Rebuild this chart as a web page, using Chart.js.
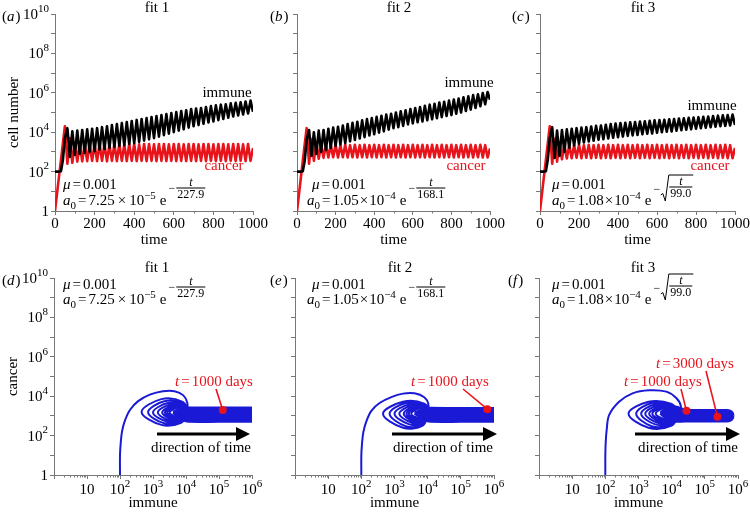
<!DOCTYPE html>
<html><head><meta charset="utf-8">
<script src="https://cdn.jsdelivr.net/npm/chart.js@4.4.1/dist/chart.umd.min.js"></script>
<style>
html,body{margin:0;padding:0;background:#fff;overflow:hidden}
#wrap{position:relative;width:750px;height:514px;background:#fff}
#wrap canvas{position:absolute;left:0;top:0}
</style></head><body>
<div id="wrap">
<canvas id="pa" width="750" height="514"></canvas>
<canvas id="pb" width="750" height="514"></canvas>
<canvas id="pc" width="750" height="514"></canvas>
<canvas id="pd" width="750" height="514"></canvas>
<canvas id="pe" width="750" height="514"></canvas>
<canvas id="pf" width="750" height="514"></canvas>
</div>
<script>
// ================= DATA =================
const time = [0,15,30,40,50,62.5,75,87.5,100,112.5,125,137.5,150,162.5,175,187.5,200,212.5,225,237.5,250,262.5,275,287.5,300,312.5,325,337.5,350,362.5,375,387.5,400,412.5,425,437.5,450,462.5,475,487.5,500,512.5,525,537.5,550,562.5,575,587.5,600,612.5,625,637.5,650,662.5,675,687.5,700,712.5,725,737.5,750,762.5,775,787.5,800,812.5,825,837.5,850,862.5,875,887.5,900,912.5,925,937.5,950,962.5,975,987.5,1000];

// fit 1
const immune1 = [100,100,105,400,5.0e3,
 1.6e4,5.6e2, 1.1e4,7.1e2, 1.2e4,7.9e2, 1.3e4,8.9e2, 1.4e4,1.0e3, 1.5e4,1.1e3, 1.6e4,1.3e3, 1.8e4,1.4e3, 2.0e4,1.6e3, 2.3e4,1.8e3,
 2.6e4,2.0e3, 2.9e4,2.2e3, 3.3e4,2.5e3, 3.7e4,2.8e3, 4.2e4,3.2e3, 4.7e4,3.7e3, 5.2e4,4.3e3, 5.9e4,5.0e3, 6.6e4,5.9e3, 7.4e4,7.1e3,
 8.3e4,8.5e3, 9.3e4,1.0e4, 1.05e5,1.2e4, 1.2e5,1.4e4, 1.3e5,1.7e4, 1.5e5,2.0e4, 1.6e5,2.3e4, 1.7e5,2.7e4, 1.9e5,3.1e4, 2.1e5,3.5e4,
 2.3e5,4.1e4, 2.5e5,4.7e4, 2.6e5,5.4e4, 2.9e5,6.3e4, 3.1e5,7.1e4, 3.3e5,7.9e4, 3.6e5,8.9e4, 4.0e5,1.1e5];
const cancer1 = [1,20,3.8e2,2.8e3,2.0e4,
 2.5e2,5.0e3, 2.8e2,3.0e3, 3.2e2,2.6e3, 3.3e2,2.5e3, 3.4e2,2.5e3, 3.5e2,2.4e3, 3.4e2,2.5e3, 3.5e2,2.5e3, 3.3e2,2.4e3, 3.5e2,2.5e3,
 3.4e2,2.5e3, 3.5e2,2.4e3, 3.4e2,2.5e3, 3.5e2,2.5e3, 3.4e2,2.4e3, 3.5e2,2.5e3, 3.4e2,2.5e3, 3.5e2,2.4e3, 3.4e2,2.5e3, 3.5e2,2.5e3,
 3.4e2,2.4e3, 3.5e2,2.5e3, 3.4e2,2.5e3, 3.5e2,2.4e3, 3.4e2,2.5e3, 3.5e2,2.5e3, 3.4e2,2.4e3, 3.5e2,2.5e3, 3.4e2,2.5e3, 3.5e2,2.4e3,
 3.4e2,2.5e3, 3.5e2,2.5e3, 3.4e2,2.4e3, 3.5e2,2.5e3, 3.4e2,2.5e3, 3.5e2,2.4e3, 3.4e2,2.5e3, 3.5e2,1.6e3];

// fit 2
const immune2 = [100,100,105,350,4.0e3,
 1.3e4,6.3e2, 1.0e4,7.9e2,
 1.2e4,1.0e3, 1.3e4,1.26e3, 1.5e4,1.6e3, 1.7e4,2.0e3, 1.9e4,2.4e3, 2.2e4,2.8e3, 2.6e4,3.4e3, 3.0e4,4.0e3, 3.4e4,4.8e3, 4.0e4,5.6e3,
 4.6e4,6.8e3, 5.2e4,7.9e3, 6.0e4,9.5e3, 6.8e4,1.1e4, 7.8e4,1.35e4, 8.7e4,1.6e4, 1.0e5,1.8e4, 1.15e5,2.1e4, 1.3e5,2.5e4, 1.5e5,2.8e4,
 1.7e5,3.2e4, 1.9e5,3.5e4, 2.2e5,4.0e4, 2.5e5,4.5e4, 2.8e5,5.1e4, 3.2e5,5.8e4, 3.5e5,6.6e4, 4.0e5,7.4e4, 4.6e5,8.7e4, 5.1e5,1.0e5,
 5.9e5,1.2e5, 6.6e5,1.4e5, 7.6e5,1.7e5, 8.5e5,2.1e5, 9.8e5,2.6e5, 1.1e6,4.5e5];
const cancer2 = [1,18,3.5e2,2.5e3,1.6e4,
 2.5e2,4.5e3, 3.5e2,3.0e3, 4.5e2,2.4e3, 5.0e2,2.3e3,
 5.2e2,2.2e3, 5.4e2,2.3e3, 5.2e2,2.2e3, 5.4e2,2.3e3, 5.2e2,2.2e3, 5.4e2,2.3e3, 5.2e2,2.2e3, 5.4e2,2.3e3, 5.2e2,2.2e3, 5.4e2,2.3e3,
 5.2e2,2.2e3, 5.4e2,2.3e3, 5.2e2,2.2e3, 5.4e2,2.3e3, 5.2e2,2.2e3, 5.4e2,2.3e3, 5.2e2,2.2e3, 5.4e2,2.3e3, 5.2e2,2.2e3, 5.4e2,2.3e3,
 5.2e2,2.2e3, 5.4e2,2.3e3, 5.2e2,2.2e3, 5.4e2,2.3e3, 5.2e2,2.2e3, 5.4e2,2.3e3, 5.2e2,2.2e3, 5.4e2,2.3e3, 5.2e2,2.2e3, 5.4e2,2.3e3,
 5.2e2,2.2e3, 5.4e2,2.3e3, 5.2e2,2.2e3, 5.2e2,1.5e3];

// fit 3
const immune3 = [100,100,105,400,5.0e3,
 1.8e4,5.0e2, 1.2e4,6.3e2,
 1.3e4,1.0e3, 1.4e4,1.6e3, 1.5e4,2.1e3, 1.6e4,2.6e3, 1.7e4,3.0e3, 1.8e4,3.4e3, 1.95e4,3.7e3, 2.1e4,4.1e3, 2.2e4,4.4e3, 2.4e4,4.8e3,
 2.6e4,5.2e3, 2.75e4,5.6e3, 2.9e4,6.0e3, 3.0e4,6.5e3, 3.2e4,6.9e3, 3.3e4,7.2e3, 3.5e4,7.8e3, 3.6e4,8.3e3, 3.8e4,8.7e3, 4.0e4,9.3e3,
 4.1e4,1.0e4, 4.3e4,1.05e4, 4.5e4,1.1e4, 4.7e4,1.2e4, 4.9e4,1.26e4, 5.1e4,1.35e4, 5.4e4,1.4e4, 5.6e4,1.5e4, 5.8e4,1.6e4, 6.0e4,1.7e4,
 6.3e4,1.8e4, 6.6e4,1.9e4, 6.9e4,2.0e4, 7.2e4,2.1e4, 7.4e4,2.2e4, 7.8e4,2.3e4];
const cancer3 = [1,20,3.8e2,2.8e3,2.0e4,
 2.5e2,4.5e3, 3.2e2,3.0e3, 4.2e2,2.3e3, 4.6e2,2.2e3,
 4.8e2,2.2e3, 5.0e2,2.3e3, 4.8e2,2.2e3, 5.0e2,2.3e3, 4.8e2,2.2e3, 5.0e2,2.3e3, 4.8e2,2.2e3, 5.0e2,2.3e3, 4.8e2,2.2e3, 5.0e2,2.3e3,
 4.8e2,2.2e3, 5.0e2,2.3e3, 4.8e2,2.2e3, 5.0e2,2.3e3, 4.8e2,2.2e3, 5.0e2,2.3e3, 4.8e2,2.2e3, 5.0e2,2.3e3, 4.8e2,2.2e3, 5.0e2,2.3e3,
 4.8e2,2.2e3, 5.0e2,2.3e3, 4.8e2,2.2e3, 5.0e2,2.3e3, 4.8e2,2.2e3, 5.0e2,2.3e3, 4.8e2,2.2e3, 5.0e2,2.3e3, 4.8e2,2.2e3, 5.0e2,2.3e3,
 4.8e2,2.2e3, 5.0e2,2.3e3, 4.8e2,2.2e3, 4.8e2,1.6e3];

// phase planes (immune, cancer) trajectories
const phaseImmune1 = [100,100,105,115,140,200,355,800,2.0e3,4.5e3,8.3e3,1.1e4,1.05e4,
 7.1e3,1.8e3,4.5e2,1.8e3,7.9e3,1.1e4, 7.1e3,2.2e3,7.1e2,2.2e3,7.9e3,1.1e4, 7.1e3,2.8e3,1.0e3,2.8e3,7.9e3,1.1e4,
 7.1e3,3.3e3,1.4e3,3.3e3,7.9e3,1.1e4, 7.1e3,3.8e3,1.9e3,3.8e3,7.9e3,1.1e4, 7.1e3,4.3e3,2.3e3,4.3e3,7.9e3,1.1e4,
 7.1e3,4.8e3,2.7e3,4.8e3,7.9e3,1.1e4, 7.1e3,5.2e3,3.2e3,5.2e3,8.3e3,1.1e4];
const phaseCancer1 = [1,10,40,160,560,2.0e3,5.6e3,1.2e4,1.8e4,1.8e4,1.1e4,4.5e3,1.26e3,
 4.5e2,3.5e2,1.6e3,7.1e3,5.2e3,1.6e3, 5.2e2,4.2e2,1.55e3,5.6e3,4.3e3,1.6e3, 6.0e2,5.0e2,1.5e3,4.5e3,3.5e3,1.6e3,
 6.8e2,5.8e2,1.5e3,3.8e3,3.2e3,1.6e3, 7.6e2,6.6e2,1.5e3,3.3e3,2.8e3,1.6e3, 8.3e2,7.4e2,1.5e3,3.0e3,2.6e3,1.6e3,
 8.9e2,8.1e2,1.5e3,2.7e3,2.5e3,1.6e3, 9.5e2,8.9e2,1.5e3,2.5e3,2.4e3,1.6e3];
const bandImmune1 = [4.0e3,6.0e3,8.9e3,1.26e4,1.0e5,1.0e6];
const bandTop1    = [1.6e3,2.2e3,2.8e3,2.7e3,2.7e3,2.7e3];
const bandBottom1 = [1.4e3,8.5e2,5.6e2,5.0e2,5.0e2,5.0e2];
const dotImmune1 = [1.3e5];
const dotCancer1 = [2.0e3];

const phaseImmune2 = [100,100,105,115,140,200,355,800,1.8e3,4.0e3,7.9e3,1.05e4,1.0e4,
 7.1e3,1.8e3,4.5e2,1.8e3,7.9e3,1.1e4, 7.1e3,2.2e3,7.1e2,2.2e3,7.9e3,1.1e4, 7.1e3,2.8e3,1.0e3,2.8e3,7.9e3,1.1e4,
 7.1e3,3.3e3,1.4e3,3.3e3,7.9e3,1.1e4, 7.1e3,3.8e3,1.9e3,3.8e3,7.9e3,1.1e4, 7.1e3,4.3e3,2.3e3,4.3e3,7.9e3,1.1e4,
 7.1e3,4.8e3,2.7e3,4.8e3,7.9e3,1.1e4, 7.1e3,5.2e3,3.2e3,5.2e3,8.3e3,1.1e4];
const phaseCancer2 = [1,10,40,150,500,1.8e3,4.5e3,9.0e3,1.35e4,1.4e4,8.9e3,4.0e3,1.2e3,
 3.2e2,2.5e2,1.3e3,5.2e3,4.2e3,1.5e3, 3.8e2,3.0e2,1.3e3,4.5e3,3.6e3,1.5e3, 4.5e2,3.7e2,1.3e3,3.9e3,3.1e3,1.5e3,
 5.2e2,4.5e2,1.3e3,3.4e3,2.8e3,1.5e3, 6.0e2,5.2e2,1.3e3,3.0e3,2.6e3,1.5e3, 6.8e2,6.0e2,1.3e3,2.7e3,2.4e3,1.5e3,
 7.6e2,7.0e2,1.3e3,2.5e3,2.3e3,1.5e3, 8.3e2,7.9e2,1.3e3,2.3e3,2.2e3,1.5e3];
const bandImmune2 = [4.0e3,6.0e3,8.9e3,1.26e4,1.0e5,1.0e6];
const bandTop2    = [1.5e3,2.0e3,2.6e3,2.6e3,2.5e3,2.5e3];
const bandBottom2 = [1.3e3,8.0e2,5.6e2,5.0e2,5.0e2,5.0e2];
const dotImmune2 = [6.3e5];
const dotCancer2 = [2.2e3];

const phaseImmune3 = [100,100,103,110,130,260,660,2.1e3,6.9e3,1.4e4,1.9e4,1.6e4,
 1.0e4,2.0e3,5.0e2,2.0e3,1.0e4,1.4e4, 1.0e4,2.5e3,8.5e2,2.5e3,1.0e4,1.4e4, 1.0e4,3.2e3,1.2e3,3.2e3,1.0e4,1.4e4,
 1.0e4,3.8e3,1.6e3,3.8e3,1.0e4,1.4e4, 1.0e4,4.5e3,2.1e3,4.5e3,1.0e4,1.4e4, 1.0e4,5.2e3,2.6e3,5.2e3,1.0e4,1.4e4,
 1.0e4,5.8e3,3.3e3,5.8e3,1.0e4,1.4e4];
const phaseCancer3 = [1,10,50,200,1.1e3,5.2e3,1.4e4,2.0e4,1.7e4,7.9e3,3.0e3,1.2e3,
 3.2e2,2.5e2,1.3e3,5.2e3,4.0e3,1.5e3, 3.8e2,3.0e2,1.3e3,4.5e3,3.5e3,1.5e3, 4.5e2,3.7e2,1.3e3,3.9e3,3.1e3,1.5e3,
 5.2e2,4.5e2,1.3e3,3.4e3,2.8e3,1.5e3, 6.0e2,5.2e2,1.3e3,3.0e3,2.6e3,1.5e3, 6.8e2,6.0e2,1.3e3,2.7e3,2.4e3,1.5e3,
 7.6e2,7.0e2,1.3e3,2.5e3,2.3e3,1.5e3];
const bandImmune3 = [4.5e3,6.3e3,1.0e4,1.6e4,2.5e4,1.0e5,4.5e5,6.0e5,7.0e5,7.3e5];
const bandTop3    = [1.5e3,2.2e3,3.2e3,2.8e3,2.1e3,2.0e3,2.0e3,1.8e3,1.4e3,1.0e3];
const bandBottom3 = [1.3e3,8.0e2,5.2e2,5.0e2,5.2e2,5.2e2,5.2e2,5.8e2,7.5e2,1.0e3];
const dotImmune3 = [2.8e4,2.4e5];
const dotCancer3 = [1.8e3,9.1e2];

// tick values / labels
const cellTickValues = [1,10,1e2,1e3,1e4,1e5,1e6,1e7,1e8,1e9,1e10];
const cellTickLabels = ['1','','10²','','10⁴','','10⁶','','10⁸','','10¹⁰'];
const timeTickValues = [0,200,400,600,800,1000];
const timeTickLabels = ['0','200','400','600','800','1000'];
const immuneTickValues = [1,10,1e2,1e3,1e4,1e5,1e6];
const immuneTickLabels = ['','10','10²','10³','10⁴','10⁵','10⁶'];

// ================= DRAWING =================
const SERIF = '"Liberation Serif","Times New Roman",serif';
const RED = '#e8141c', BLUE = '#1a1ad6', AXIS = '#777';
Chart.defaults.font.family = SERIF;
Chart.defaults.font.size = 15;
Chart.defaults.color = '#000';

const SUP = {'⁰':'0','¹':'1','²':'2','³':'3','⁴':'4','⁵':'5','⁶':'6','⁷':'7','⁸':'8','⁹':'9','⁻':'−'};
function font(s, it){ return (it ? 'italic ' : '') + s + 'px ' + SERIF; }
function labelRuns(label){
  let base = '', exp = '';
  for (const ch of label){ if (SUP[ch]) exp += SUP[ch]; else base += ch; }
  const r = [{t:base}];
  if (exp) r.push({t:exp, s:11, dy:-6});
  return r;
}
function runsWidth(ctx, runs){ let w = 0; for (const r of runs){ if (r.gap){ w += r.gap; continue; } ctx.font = font(r.s || 15, r.it); w += ctx.measureText(r.t).width; } return w; }
function drawRuns(ctx, x, y, runs){ for (const r of runs){ if (r.gap){ x += r.gap; continue; } ctx.font = font(r.s || 15, r.it); ctx.fillText(r.t, x, y + (r.dy || 0)); x += ctx.measureText(r.t).width; } return x; }
function drawFrac(ctx, x, y, num, den, bar){
  ctx.font = font(12, false);
  const w = ctx.measureText(den).width + 2;
  ctx.fillRect(x, y + bar - 0.5, w, 1);
  ctx.textAlign = 'center';
  ctx.font = font(12, true); ctx.fillText(num, x + w / 2, y + bar - 2.5);
  ctx.font = font(12, false); ctx.fillText(den, x + w / 2, y + bar + 10);
  ctx.textAlign = 'left';
  return x + w;
}
function drawFormula(ctx, f){
  ctx.fillStyle = '#000'; ctx.strokeStyle = '#000'; ctx.textAlign = 'left'; ctx.textBaseline = 'alphabetic';
  drawRuns(ctx, f.x1, f.y1, [{t:'μ', it:true}, {gap:2}, {t:'='}, {gap:2}, {t:'0.001'}]);
  let x = drawRuns(ctx, f.x2, f.y2, [{t:'a', it:true}, {t:'0', s:11, dy:4}, {gap:2}, {t:'='}, {gap:2}, {t:f.coef}, {gap:f.sp}, {t:'×'}, {gap:f.sp}, {t:'10'}, {t:f.pow, s:11, dy:-6}, {gap:4}, {t:'e'}, {gap:2}]);
  if (!f.sqrt){
    x = drawRuns(ctx, x, f.y2, [{t:'−', s:12, dy:-13}, {gap:1}]);
    drawFrac(ctx, x, f.y2, 't', f.den, -17);
  } else {
    x = drawRuns(ctx, x, f.y2, [{t:'−', s:12, dy:-12}]);
    ctx.font = font(12, false);
    const w = ctx.measureText(f.den).width + 2;
    const fx = x + 9;
    ctx.lineWidth = 1; ctx.beginPath();
    ctx.moveTo(x + 0.5, f.y2 - 10); ctx.lineTo(x + 2.5, f.y2 - 11.5); ctx.lineTo(x + 5, f.y2 - 4);
    ctx.lineTo(x + 8.5, f.y2 - 30); ctx.lineTo(fx + w + 1, f.y2 - 30); ctx.stroke();
    drawFrac(ctx, fx, f.y2, 't', f.den, -18);
  }
}
function deco(chart, p){
  const ctx = chart.ctx, xs = chart.scales.x, ys = chart.scales.y, ca = chart.chartArea;
  ctx.save();
  // minor axis ticks
  ctx.strokeStyle = AXIS; ctx.lineWidth = 1;
  for (const v of p.minor){
    const px = Math.round(xs.getPixelForValue(v)) + 0.5;
    ctx.beginPath(); ctx.moveTo(px, ca.bottom); ctx.lineTo(px, ca.bottom + 2.5); ctx.stroke();
  }
  ctx.fillStyle = '#000'; ctx.textBaseline = 'middle';
  // y tick labels (with superscript exponents)
  if (p.yLabels){
    cellTickValues.forEach((v, i) => {
      const lab = cellTickLabels[i]; if (!lab) return;
      const runs = labelRuns(lab), w = runsWidth(ctx, runs);
      drawRuns(ctx, ca.left - 6 - w, ys.getPixelForValue(v) + 1, runs);
    });
  }
  // log x tick labels
  if (p.xLog){
    immuneTickValues.forEach((v, i) => {
      const lab = immuneTickLabels[i]; if (!lab) return;
      const runs = labelRuns(lab), w = runsWidth(ctx, runs);
      drawRuns(ctx, xs.getPixelForValue(v) - w / 2, ca.bottom + 15, runs);
    });
  }
  ctx.textAlign = 'center';
  ctx.font = font(15); ctx.fillText(p.title, p.titleX, p.titleY);
  ctx.textAlign = 'left';
  drawRuns(ctx, p.tagX, p.tagY, [{t:'('}, {t:p.tag, it:true}, {gap:1}, {t:')'}]);
  drawFormula(ctx, p.f);
  if (p.labels){
    ctx.textAlign = 'center'; ctx.textBaseline = 'middle'; ctx.font = font(15);
    for (const l of p.labels){ ctx.fillStyle = l.c; ctx.fillText(l.t, l.x, l.y); }
  }
  if (p.arrow){
    const a = p.arrow;
    ctx.strokeStyle = '#000'; ctx.fillStyle = '#000'; ctx.lineWidth = 3;
    ctx.beginPath(); ctx.moveTo(a.x1, a.y); ctx.lineTo(a.x2 - 10, a.y); ctx.stroke();
    ctx.beginPath(); ctx.moveTo(a.x2, a.y); ctx.lineTo(a.x2 - 14, a.y - 7); ctx.lineTo(a.x2 - 14, a.y + 7); ctx.closePath(); ctx.fill();
    ctx.textAlign = 'center'; ctx.textBaseline = 'middle'; ctx.font = font(15);
    ctx.fillText('direction of time', a.tx, a.ty);
  }
  if (p.tl){
    for (const l of p.tl){
      const runs = [{t:'t', it:true}, {gap:2}, {t:'='}, {gap:2}, {t:l.t + ' days'}];
      ctx.fillStyle = RED; ctx.textAlign = 'left'; ctx.textBaseline = 'middle';
      const w = runsWidth(ctx, runs);
      drawRuns(ctx, l.x - w / 2, l.y, runs);
      const dx = xs.getPixelForValue(p.dotsX[l.dot]), dy = ys.getPixelForValue(p.dotsY[l.dot]);
      ctx.strokeStyle = RED; ctx.lineWidth = 1.6;
      ctx.beginPath(); ctx.moveTo(l.fx, l.fy); ctx.lineTo(dx, dy); ctx.stroke();
    }
  }
  ctx.restore();
}

function yAxis(area, title){
  return {
    type:'logarithmic', position:'left', min:1, max:1e10,
    afterBuildTicks: s => { s.ticks = cellTickValues.map(v => ({value:v})); },
    afterFit: s => { s.width = area.l - area.padL; },
    ticks:{autoSkip:false, padding:2, callback:() => ''},
    grid:{drawOnChartArea:false, tickLength:4, color:AXIS},
    border:{color:AXIS},
    title:{display:!!title, text:title || '', padding:0, font:{size:15}}
  };
}
function timeAxis(area){
  return {
    type:'linear', position:'bottom', min:0, max:1000,
    afterBuildTicks: s => { s.ticks = timeTickValues.map(v => ({value:v})); },
    afterFit: s => { s.height = area.xH; },
    ticks:{autoSkip:false, maxRotation:0, padding:0, callback:(v, i) => timeTickLabels[i]},
    grid:{drawOnChartArea:false, tickLength:4, color:AXIS},
    border:{color:AXIS},
    title:{display:true, text:'time', padding:0, font:{size:15}}
  };
}
function immuneAxis(area){
  return {
    type:'logarithmic', position:'bottom', min:1, max:1e6,
    afterBuildTicks: s => { s.ticks = immuneTickValues.map(v => ({value:v})); },
    afterFit: s => { s.height = area.xH; },
    ticks:{autoSkip:false, maxRotation:0, padding:0, callback:() => ''},
    grid:{drawOnChartArea:false, tickLength:4, color:AXIS},
    border:{color:AXIS},
    title:{display:true, text:'immune', padding:0, font:{size:15}}
  };
}
function makeChart(id, area, scales, datasets, p){
  return new Chart(document.getElementById(id), {
    type:'scatter',
    data:{datasets},
    options:{
      responsive:false, animation:false, devicePixelRatio:1, events:[],
      layout:{padding:{left:area.padL, top:area.t, right:750 - area.r, bottom:514 - area.b - area.xH}},
      plugins:{legend:{display:false}, tooltip:{enabled:false}},
      scales
    },
    plugins:[{id:'deco' + id, afterDraw: c => deco(c, p)}]
  });
}
const pts = (xs, ys) => xs.map((x, i) => ({x, y:ys[i]}));
function timeSeries(immune, cancer){
  return [
    {data:pts(time, immune), showLine:true, borderColor:'#000', borderWidth:2.6, pointRadius:0, borderJoinStyle:'round'},
    {data:pts(time, cancer), showLine:true, borderColor:RED, borderWidth:2.6, pointRadius:0, borderJoinStyle:'round'}
  ];
}
function phaseSeries(pi, pc, bi, bt, bb, di, dc){
  return [
    {data:pts(di, dc), showLine:false, pointRadius:4, pointBackgroundColor:RED, pointBorderWidth:0},
    {data:pts(bi, bt), showLine:true, borderColor:BLUE, borderWidth:2, pointRadius:0, fill:false, tension:0.3},
    {data:pts(bi, bb), showLine:true, borderColor:BLUE, borderWidth:2, pointRadius:0, fill:'-1', backgroundColor:BLUE, tension:0.3},
    {data:pts(pi, pc), showLine:true, borderColor:BLUE, borderWidth:2, pointRadius:0, tension:0.35, borderJoinStyle:'round'}
  ];
}
const minorTime = [100,300,500,700,900];
const minorLog = [];
for (let k = 0; k < 6; k++) for (let m = 2; m <= 9; m++) minorLog.push(m * Math.pow(10, k));

const TOP = {t:14, b:211, xH:38}, BOT = {t:278, b:475, xH:37};
const A = Object.assign({padL:5, l:55, r:253}, TOP);
const B = Object.assign({padL:287, l:297, r:490}, TOP);
const C = Object.assign({padL:530, l:540, r:735}, TOP);
const D = Object.assign({padL:4, l:54, r:252}, BOT);
const E = Object.assign({padL:285, l:295, r:494}, BOT);
const F = Object.assign({padL:529, l:539, r:738}, BOT);

makeChart('pa', A, {x:timeAxis(A), y:yAxis(A, 'cell number')}, timeSeries(immune1, cancer1),
  {minor:minorTime, yLabels:true, title:'fit 1', titleX:157, titleY:8, tag:'a', tagX:2, tagY:17,
   f:{x1:63, y1:189, x2:63, y2:205, coef:'7.25', sp:3, pow:'−5', den:'227.9'},
   labels:[{t:'immune', x:227, y:93, c:'#000'}, {t:'cancer', x:224, y:166, c:RED}]});
makeChart('pb', B, {x:timeAxis(B), y:yAxis(B, '')}, timeSeries(immune2, cancer2),
  {minor:minorTime, title:'fit 2', titleX:399, titleY:8, tag:'b', tagX:270, tagY:17,
   f:{x1:312, y1:189, x2:307, y2:205, coef:'1.05', sp:1, pow:'−4', den:'168.1'},
   labels:[{t:'immune', x:469, y:83, c:'#000'}, {t:'cancer', x:466, y:166, c:RED}]});
makeChart('pc', C, {x:timeAxis(C), y:yAxis(C, '')}, timeSeries(immune3, cancer3),
  {minor:minorTime, title:'fit 3', titleX:643, titleY:8, tag:'c', tagX:512, tagY:17,
   f:{x1:552, y1:189, x2:552, y2:205, coef:'1.08', sp:1, pow:'−4', den:'99.0', sqrt:true},
   labels:[{t:'immune', x:712, y:106, c:'#000'}, {t:'cancer', x:710, y:166, c:RED}]});

makeChart('pd', D, {x:immuneAxis(D), y:yAxis(D, 'cancer')},
  phaseSeries(phaseImmune1, phaseCancer1, bandImmune1, bandTop1, bandBottom1, dotImmune1, dotCancer1),
  {minor:minorLog, yLabels:true, xLog:true, title:'fit 1', titleX:157, titleY:268, tag:'d', tagX:2, tagY:281,
   f:{x1:63, y1:289, x2:63, y2:304, coef:'7.25', sp:3, pow:'−5', den:'227.9'},
   arrow:{x1:157, x2:250, y:434, tx:201, ty:448},
   dotsX:dotImmune1, dotsY:dotCancer1, tl:[{t:'1000', x:214, y:382, fx:216, fy:389, dot:0}]});
makeChart('pe', E, {x:immuneAxis(E), y:yAxis(E, '')},
  phaseSeries(phaseImmune2, phaseCancer2, bandImmune2, bandTop2, bandBottom2, dotImmune2, dotCancer2),
  {minor:minorLog, xLog:true, title:'fit 2', titleX:400, titleY:268, tag:'e', tagX:270, tagY:281,
   f:{x1:312, y1:289, x2:307, y2:304, coef:'1.05', sp:1, pow:'−4', den:'168.1'},
   arrow:{x1:392, x2:497, y:434, tx:443, ty:448},
   dotsX:dotImmune2, dotsY:dotCancer2, tl:[{t:'1000', x:450, y:382, fx:463, fy:389, dot:0}]});
makeChart('pf', F, {x:immuneAxis(F), y:yAxis(F, '')},
  phaseSeries(phaseImmune3, phaseCancer3, bandImmune3, bandTop3, bandBottom3, dotImmune3, dotCancer3),
  {minor:minorLog, xLog:true, title:'fit 3', titleX:643, titleY:268, tag:'f', tagX:508, tagY:281,
   f:{x1:552, y1:289, x2:552, y2:304, coef:'1.08', sp:1, pow:'−4', den:'99.0', sqrt:true},
   arrow:{x1:635, x2:740, y:434, tx:688, ty:448},
   dotsX:dotImmune3, dotsY:dotCancer3,
   tl:[{t:'3000', x:695, y:364, fx:706, fy:371, dot:1}, {t:'1000', x:663, y:382, fx:681, fy:389, dot:0}]});
</script>
</body></html>
